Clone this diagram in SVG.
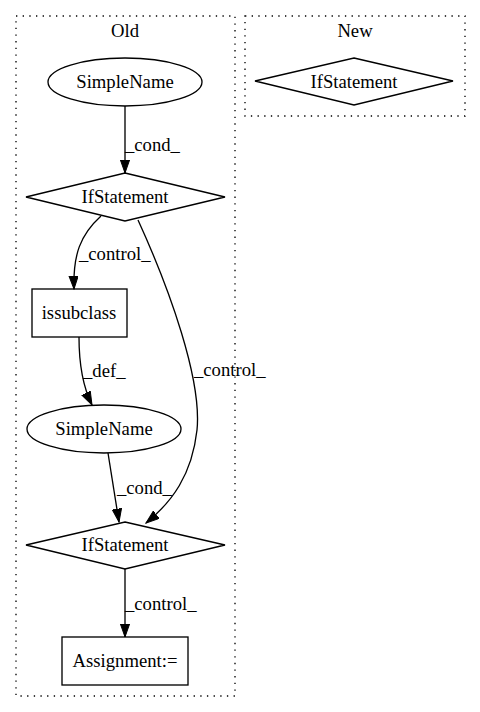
<svg xmlns="http://www.w3.org/2000/svg" width="480" height="712" viewBox="0 0 480 712">
<defs>
<style>
text{font-family:"Liberation Serif","Times New Roman",serif;font-size:18.67px;fill:#000;text-anchor:middle}
.n{fill:none;stroke:#000;stroke-width:1.33}
.c{fill:none;stroke:#000;stroke-width:1.33;stroke-dasharray:1.33,5.33}
.e{fill:none;stroke:#000;stroke-width:1.33;marker-end:url(#a)}
.l{text-anchor:start}
</style>
<marker id="a" markerWidth="14" markerHeight="10" refX="13.3" refY="4.7" orient="auto" markerUnits="userSpaceOnUse">
<path d="M0,0 L13.3,4.7 L0,9.4 Z" fill="#000" stroke="#000" stroke-width="1"/>
</marker>
</defs>
<rect width="480" height="712" fill="#fff"/>
<g id="cluster_old">
<rect class="c" x="16" y="16" width="219" height="680"/>
<text x="125" y="37">Old</text>
</g>
<g id="cluster_new">
<rect class="c" x="245" y="16" width="220" height="100"/>
<text x="355" y="37">New</text>
</g>
<g id="edges">
<path class="e" d="M125,106 L125,173"/>
<text class="l" x="125" y="151">_cond_</text>
<path class="e" d="M101,216 C80,235 73,255 74,289"/>
<text class="l" x="79" y="260">_control_</text>
<path class="e" d="M79,337 C79,360 82,385 92,405"/>
<text class="l" x="83" y="377">_def_</text>
<path class="e" d="M138,220 C170,290 202,380 197,430 C192,475 172,502 146,523"/>
<text class="l" x="194" y="376">_control_</text>
<path class="e" d="M108,453 L119,522"/>
<text class="l" x="117" y="494">_cond_</text>
<path class="e" d="M125,569 L125,637"/>
<text class="l" x="125" y="610">_control_</text>
</g>
<g id="node_simplename1">
<ellipse class="n" cx="125" cy="82" rx="77" ry="24"/>
<text x="125" y="88">SimpleName</text>
</g>
<g id="node_if1">
<polygon class="n" points="125,173 225,197 125,221 26,197"/>
<text x="125" y="203">IfStatement</text>
</g>
<g id="node_if_new">
<polygon class="n" points="354,58 453,81 354,105 255,81"/>
<text x="354" y="88">IfStatement</text>
</g>
<g id="node_issubclass">
<rect class="n" x="32" y="289" width="95" height="48"/>
<text x="79" y="319">issubclass</text>
</g>
<g id="node_simplename2">
<ellipse class="n" cx="104" cy="429" rx="77" ry="24"/>
<text x="104" y="435">SimpleName</text>
</g>
<g id="node_if2">
<polygon class="n" points="125,522 225,545 125,569 26,545"/>
<text x="125" y="551">IfStatement</text>
</g>
<g id="node_assignment">
<rect class="n" x="62" y="637" width="126" height="48"/>
<text x="125" y="667">Assignment:=</text>
</g>
</svg>
